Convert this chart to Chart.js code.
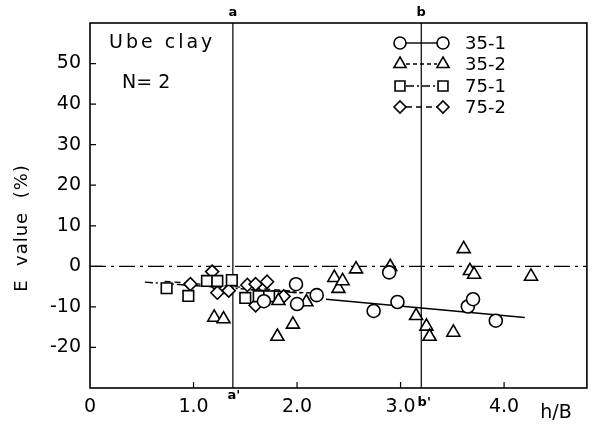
<!DOCTYPE html>
<html>
<head>
<meta charset="utf-8">
<script src="https://cdn.jsdelivr.net/npm/chart.js@4/dist/chart.umd.min.js"></script>
<style>
  html, body { margin: 0; padding: 0; background: #fff; }
  #wrap { width: 596px; height: 433px; }
</style>
</head>
<body>
<div id="wrap"><canvas id="chart" width="596" height="433"></canvas></div>
<script>
// 測定値 (h/B, E value %)
const c351X = [1.68, 1.99, 2.00, 2.19, 2.74, 2.89, 2.97, 3.65, 3.70, 3.92];
const c351Y = [-8.6, -4.4, -9.3, -7.1, -11.0, -1.5, -8.8, -9.9, -8.1, -13.4];

const c352X = [1.20, 1.29, 1.81, 1.82, 1.96, 2.09, 2.36, 2.40, 2.44, 2.57, 2.90, 3.15, 3.25, 3.28, 3.51, 3.61, 3.67, 3.71, 4.26];
const c352Y = [-12.6, -13.0, -17.3, -8.5, -14.3, -8.8, -2.8, -5.5, -3.6, -0.7, -0.1, -12.2, -14.8, -17.3, -16.3, 4.3, -1.1, -2.0, -2.5];

const c751X = [0.74, 0.95, 1.13, 1.23, 1.37, 1.50, 1.63, 1.73];
const c751Y = [-5.4, -7.3, -3.6, -3.6, -3.4, -7.8, -7.4, -7.4];

const c752X = [0.97, 1.18, 1.20, 1.23, 1.34, 1.52, 1.60, 1.71, 1.60, 1.87];
const c752Y = [-4.4, -1.3, -4.0, -6.5, -6.0, -4.6, -4.4, -3.8, -9.6, -7.4];

// 回帰直線の両端
const fit351X = [2.28, 4.20];
const fit351Y = [-8.1, -12.6];
const fit352X = [1.55, 2.15];
const fit352Y = [-5.8, -6.6];
const fit751X = [0.53, 2.05];
const fit751Y = [-3.9, -6.6];
const fit752X = [0.72, 1.95];
const fit752Y = [-3.7, -6.1];

// 補助線
const zeroX = [0, 4.8];
const zeroY = [0, 0];
const lineA = 1.38;
const lineB = 3.2;

const xMin = 0, xMax = 4.8;
const yMin = -30, yMax = 60;

const FONT = "'DejaVu Sans', sans-serif";

// マーカー形状と大きさ
const MARK = {
  c351: { style: "circle", r: 6.5 },
  c352: { style: "triangle", r: 7.5 },
  c751: { style: "rect", r: 7.5 },
  c752: { style: "rectRot", r: 6.5 },
};

function pts(xs, ys) {
  return xs.map((x, i) => ({ x: x, y: ys[i] }));
}

function markerSet(label, xs, ys, m) {
  return {
    label: label,
    data: pts(xs, ys),
    showLine: false,
    pointStyle: m.style,
    pointRadius: m.r,
    pointBackgroundColor: "#fff",
    pointBorderColor: "#000",
    pointBorderWidth: 1.6,
    order: 0,
  };
}

function lineSet(xs, ys, dash, width) {
  return {
    data: pts(xs, ys),
    showLine: true,
    pointRadius: 0,
    borderColor: "#000",
    borderWidth: width || 1.4,
    borderDash: dash,
    fill: false,
    order: 1,
  };
}

// 枠・内向き目盛・注記
const decor = {
  id: "decor",
  afterDraw(chart) {
    const ctx = chart.ctx;
    const a = chart.chartArea;
    const xs = chart.scales.x;
    const ys = chart.scales.y;
    ctx.save();
    ctx.strokeStyle = "#000";
    ctx.lineWidth = 1.6;
    ctx.strokeRect(a.left, a.top, a.right - a.left, a.bottom - a.top);

    ctx.lineWidth = 1.2;
    ctx.beginPath();
    ys.ticks.forEach((t) => {
      if (t.value <= yMin || t.value >= yMax) return;
      const py = ys.getPixelForValue(t.value);
      ctx.moveTo(a.left, py);
      ctx.lineTo(a.left + (t.value === 0 ? 12 : 6), py);
    });
    xs.ticks.forEach((t) => {
      if (t.value <= xMin || t.value >= xMax || !Number.isInteger(t.value)) return;
      const px = xs.getPixelForValue(t.value);
      ctx.moveTo(px, a.bottom);
      ctx.lineTo(px, a.bottom - 6);
    });
    ctx.stroke();

    ctx.fillStyle = "#000";
    ctx.textBaseline = "middle";
    ctx.textAlign = "center";
    const pa = xs.getPixelForValue(lineA);
    const pb = xs.getPixelForValue(lineB);
    ctx.font = "bold 13px " + FONT;
    ctx.fillText("a", pa, a.top - 10);
    ctx.fillText("b", pb, a.top - 10);
    ctx.fillText("a'", pa + 1, a.bottom + 8);
    ctx.fillText("b'", pb + 3, a.bottom + 15);

    ctx.font = "19px " + FONT;
    ctx.fillText("h/B", 556, 413);

    ctx.textAlign = "left";
    ctx.letterSpacing = "3px";
    ctx.font = "19px " + FONT;
    ctx.fillText("Ube clay", 109, 43);
    ctx.letterSpacing = "0px";
    ctx.fillText("N= 2", 122, 83);

    // 凡例
    const rows = [
      { text: "35-1", m: MARK.c351, dash: [] },
      { text: "35-2", m: MARK.c352, dash: [4, 3] },
      { text: "75-1", m: MARK.c751, dash: [8, 3, 2, 3] },
      { text: "75-2", m: MARK.c752, dash: [6, 4] },
    ];
    const rowY = [43, 64, 86, 107];
    rows.forEach((row, i) => {
      const y = rowY[i];
      ctx.setLineDash(row.dash);
      ctx.lineWidth = 1.4;
      ctx.beginPath();
      ctx.moveTo(406, y);
      ctx.lineTo(437, y);
      ctx.stroke();
      ctx.setLineDash([]);
      ctx.lineWidth = 1.6;
      ctx.fillStyle = "#fff";
      [400, 443].forEach((mx) => {
        Chart.helpers.drawPoint(ctx, { pointStyle: row.m.style, radius: row.m.r - 0.5, borderWidth: 1.6 }, mx, y);
      });
      ctx.fillStyle = "#000";
      ctx.font = "18px " + FONT;
      ctx.fillText(row.text, 465, y + 1);
    });

    ctx.save();
    ctx.translate(22, 228);
    ctx.rotate(-Math.PI / 2);
    ctx.textAlign = "center";
    ctx.font = "18px " + FONT;
    ctx.letterSpacing = "1px";
    ctx.fillText("E  value  (%)", 0, 0);
    ctx.restore();
    ctx.restore();
  },
};

new Chart(document.getElementById("chart"), {
  type: "scatter",
  data: {
    datasets: [
      markerSet("35-1", c351X, c351Y, MARK.c351),
      markerSet("35-2", c352X, c352Y, MARK.c352),
      markerSet("75-1", c751X, c751Y, MARK.c751),
      markerSet("75-2", c752X, c752Y, MARK.c752),
      lineSet(fit351X, fit351Y, [], 1.6),
      lineSet(fit352X, fit352Y, [4, 3]),
      lineSet(fit751X, fit751Y, [8, 3, 2, 3]),
      lineSet(fit752X, fit752Y, [6, 4]),
      lineSet(zeroX, zeroY, [16, 5, 3, 5], 1.3),
      lineSet([lineA, lineA], [yMin, yMax], [], 1.2),
      lineSet([lineB, lineB], [yMin, yMax], [], 1.2),
    ],
  },
  options: {
    responsive: false,
    animation: false,
    devicePixelRatio: 1,
    layout: { padding: { top: 23, right: 9, left: 0, bottom: 0 } },
    plugins: {
      legend: { display: false },
      tooltip: { enabled: false },
    },
    scales: {
      x: {
        type: "linear",
        min: xMin,
        max: xMax,
        ticks: {
          stepSize: 1,
          color: "#000",
          font: { family: FONT, size: 19 },
          padding: 8,
          maxRotation: 0,
          callback: (v) => (Number.isInteger(v) ? (v === 0 ? "0" : v.toFixed(1)) : ""),
        },
        grid: { display: false, drawTicks: false },
        border: { display: false },
        afterFit: (s) => { s.height = 45; },
      },
      y: {
        type: "linear",
        min: yMin,
        max: yMax,
        ticks: {
          stepSize: 10,
          color: "#000",
          font: { family: FONT, size: 19 },
          padding: 9,
          callback: (v) => (v <= yMin || v >= yMax ? "" : String(v)),
        },
        grid: { display: false, drawTicks: false },
        border: { display: false },
        afterFit: (s) => { s.width = 90; },
      },
    },
  },
  plugins: [decor],
});
</script>
</body>
</html>
